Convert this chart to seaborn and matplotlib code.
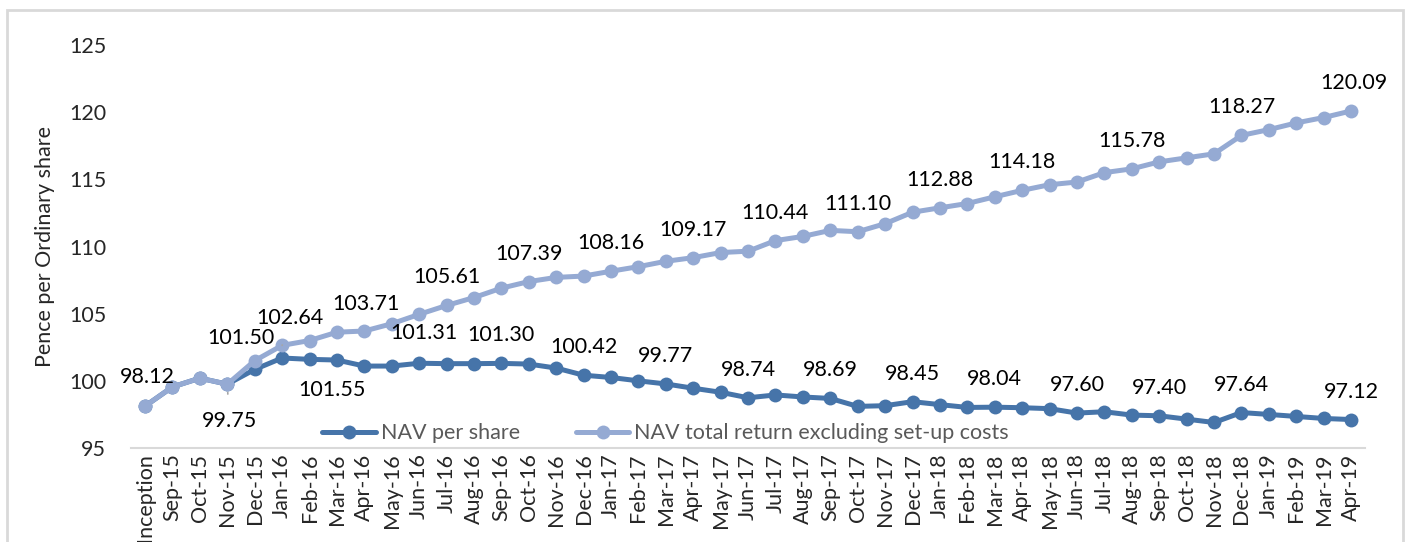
import pandas as pd
import seaborn as sns
import matplotlib.pyplot as plt
from matplotlib.patches import Rectangle

months = ['Inception', 'Sep-15', 'Oct-15', 'Nov-15', 'Dec-15',
          'Jan-16', 'Feb-16', 'Mar-16', 'Apr-16', 'May-16', 'Jun-16',
          'Jul-16', 'Aug-16', 'Sep-16', 'Oct-16', 'Nov-16', 'Dec-16',
          'Jan-17', 'Feb-17', 'Mar-17', 'Apr-17', 'May-17', 'Jun-17',
          'Jul-17', 'Aug-17', 'Sep-17', 'Oct-17', 'Nov-17', 'Dec-17',
          'Jan-18', 'Feb-18', 'Mar-18', 'Apr-18', 'May-18', 'Jun-18',
          'Jul-18', 'Aug-18', 'Sep-18', 'Oct-18', 'Nov-18', 'Dec-18',
          'Jan-19', 'Feb-19', 'Mar-19', 'Apr-19']

nav_per_share = [98.12, 99.55, 100.20, 99.75, 100.85,
                 101.70, 101.60, 101.55, 101.10, 101.10, 101.31,
                 101.28, 101.28, 101.30, 101.25, 100.95, 100.42,
                 100.25, 100.00, 99.77, 99.45, 99.15, 98.74,
                 98.95, 98.80, 98.69, 98.10, 98.15, 98.45,
                 98.23, 98.02, 98.04, 98.00, 97.93, 97.60,
                 97.70, 97.45, 97.40, 97.15, 96.90, 97.64,
                 97.50, 97.35, 97.20, 97.12]

nav_total_return = [98.12, 99.55, 100.20, 99.75, 101.50,
                    102.64, 103.00, 103.62, 103.71, 104.25, 104.95,
                    105.61, 106.20, 106.90, 107.39, 107.70, 107.80,
                    108.16, 108.50, 108.90, 109.17, 109.55, 109.65,
                    110.44, 110.75, 111.20, 111.10, 111.70, 112.55,
                    112.88, 113.20, 113.70, 114.18, 114.60, 114.80,
                    115.50, 115.78, 116.30, 116.60, 116.90, 118.27,
                    118.70, 119.20, 119.60, 120.09]

series_names = ['NAV per share', 'NAV total return excluding set-up costs']

# which points carry a value label
nav_labelled = [0, 3, 7, 10, 13, 16, 19, 22, 25, 28, 31, 34, 37, 40, 44]
tr_labelled = [4, 5, 8, 11, 14, 17, 20, 23, 26, 29, 32, 36, 40, 44]

dark = '#4674A9'
light = '#95AAD3'
fs = 15.5

sns.set_style('white')
plt.rcParams['font.family'] = ['Lato', 'DejaVu Sans']

df = pd.DataFrame({
    'month': months * 2,
    'pos': list(range(len(months))) * 2,
    'value': nav_per_share + nav_total_return,
    'series': [series_names[0]] * len(months) + [series_names[1]] * len(months),
})

fig = plt.figure(figsize=(14.08, 5.42), dpi=100)
ax = fig.add_axes([0.0933, 0.1734, 0.8760, 0.7436])

sns.lineplot(data=df, x='pos', y='value', hue='series',
             palette=[dark, light], marker='o', markersize=10,
             markeredgewidth=0, linewidth=3.6, ax=ax, legend=False)

ax.set_xlim(-0.5, len(months) - 0.5)
ax.set_ylim(95, 125)
ax.set_yticks([95, 100, 105, 110, 115, 120, 125])
ax.tick_params(axis='y', length=0, pad=18, labelsize=fs)

ax.set_xticks(range(len(months)))
ax.set_xticklabels(months, rotation=90, fontsize=fs)
ax.set_xticks([i - 0.5 for i in range(len(months) + 1)], minor=True)
ax.tick_params(axis='x', which='major', length=0, pad=4)
ax.tick_params(axis='x', which='minor', length=6, width=1.5, color='#d9d9d9')
ax.set_xlabel('')
ax.set_ylabel('Pence per Ordinary share', fontsize=fs)
ax.yaxis.set_label_coords(-0.062, 0.5)

for side in ['top', 'right', 'left']:
    ax.spines[side].set_visible(False)
ax.spines['bottom'].set_color('#d9d9d9')
ax.spines['bottom'].set_linewidth(1.5)

# label offsets in pixels (default: centred above the marker)
special = {
    ('nav', 0): (2, 29),
    ('nav', 3): (2, -37),
    ('nav', 7): (-5, -30),
    ('nav', 10): (5, 30),
    ('tr', 4): (-14, 23),
    ('tr', 5): (8, 27),
    ('tr', 8): (2, 27),
    ('tr', 44): (3, 28),
}
leaders = {('nav', 3), ('tr', 5)}

for key, vals, idxs in [('nav', nav_per_share, nav_labelled),
                        ('tr', nav_total_return, tr_labelled)]:
    for i in idxs:
        dx, dy = special.get((key, i), (0, 28))
        kw = {}
        if (key, i) in leaders:
            kw['arrowprops'] = dict(arrowstyle='-', color='#a6a6a6', lw=1.2,
                                    shrinkA=10, shrinkB=6)
        ax.annotate(f'{vals[i]:.2f}', (i, vals[i]), xytext=(dx, dy),
                    textcoords='offset pixels', ha='center', va='center',
                    fontsize=fs, color='black', **kw)

handles = [plt.Line2D([], [], color=dark, lw=3.6, marker='o', markersize=10,
                      markeredgewidth=0),
           plt.Line2D([], [], color=light, lw=3.6, marker='o', markersize=10,
                      markeredgewidth=0)]
leg = ax.legend(handles, series_names, loc='center', bbox_to_anchor=(0.433, 0.037),
                ncol=2, frameon=False, fontsize=fs, handlelength=2.5,
                handletextpad=0.2, columnspacing=2.6)
for t in leg.get_texts():
    t.set_color('#595959')

fig.patches.append(Rectangle((7 / 1408, -0.05), 1396 / 1408, 1.05 - 10 / 542,
                             transform=fig.transFigure, fill=False,
                             edgecolor='#d9d9d9', lw=2))

fig.savefig('out.png', dpi=100)
